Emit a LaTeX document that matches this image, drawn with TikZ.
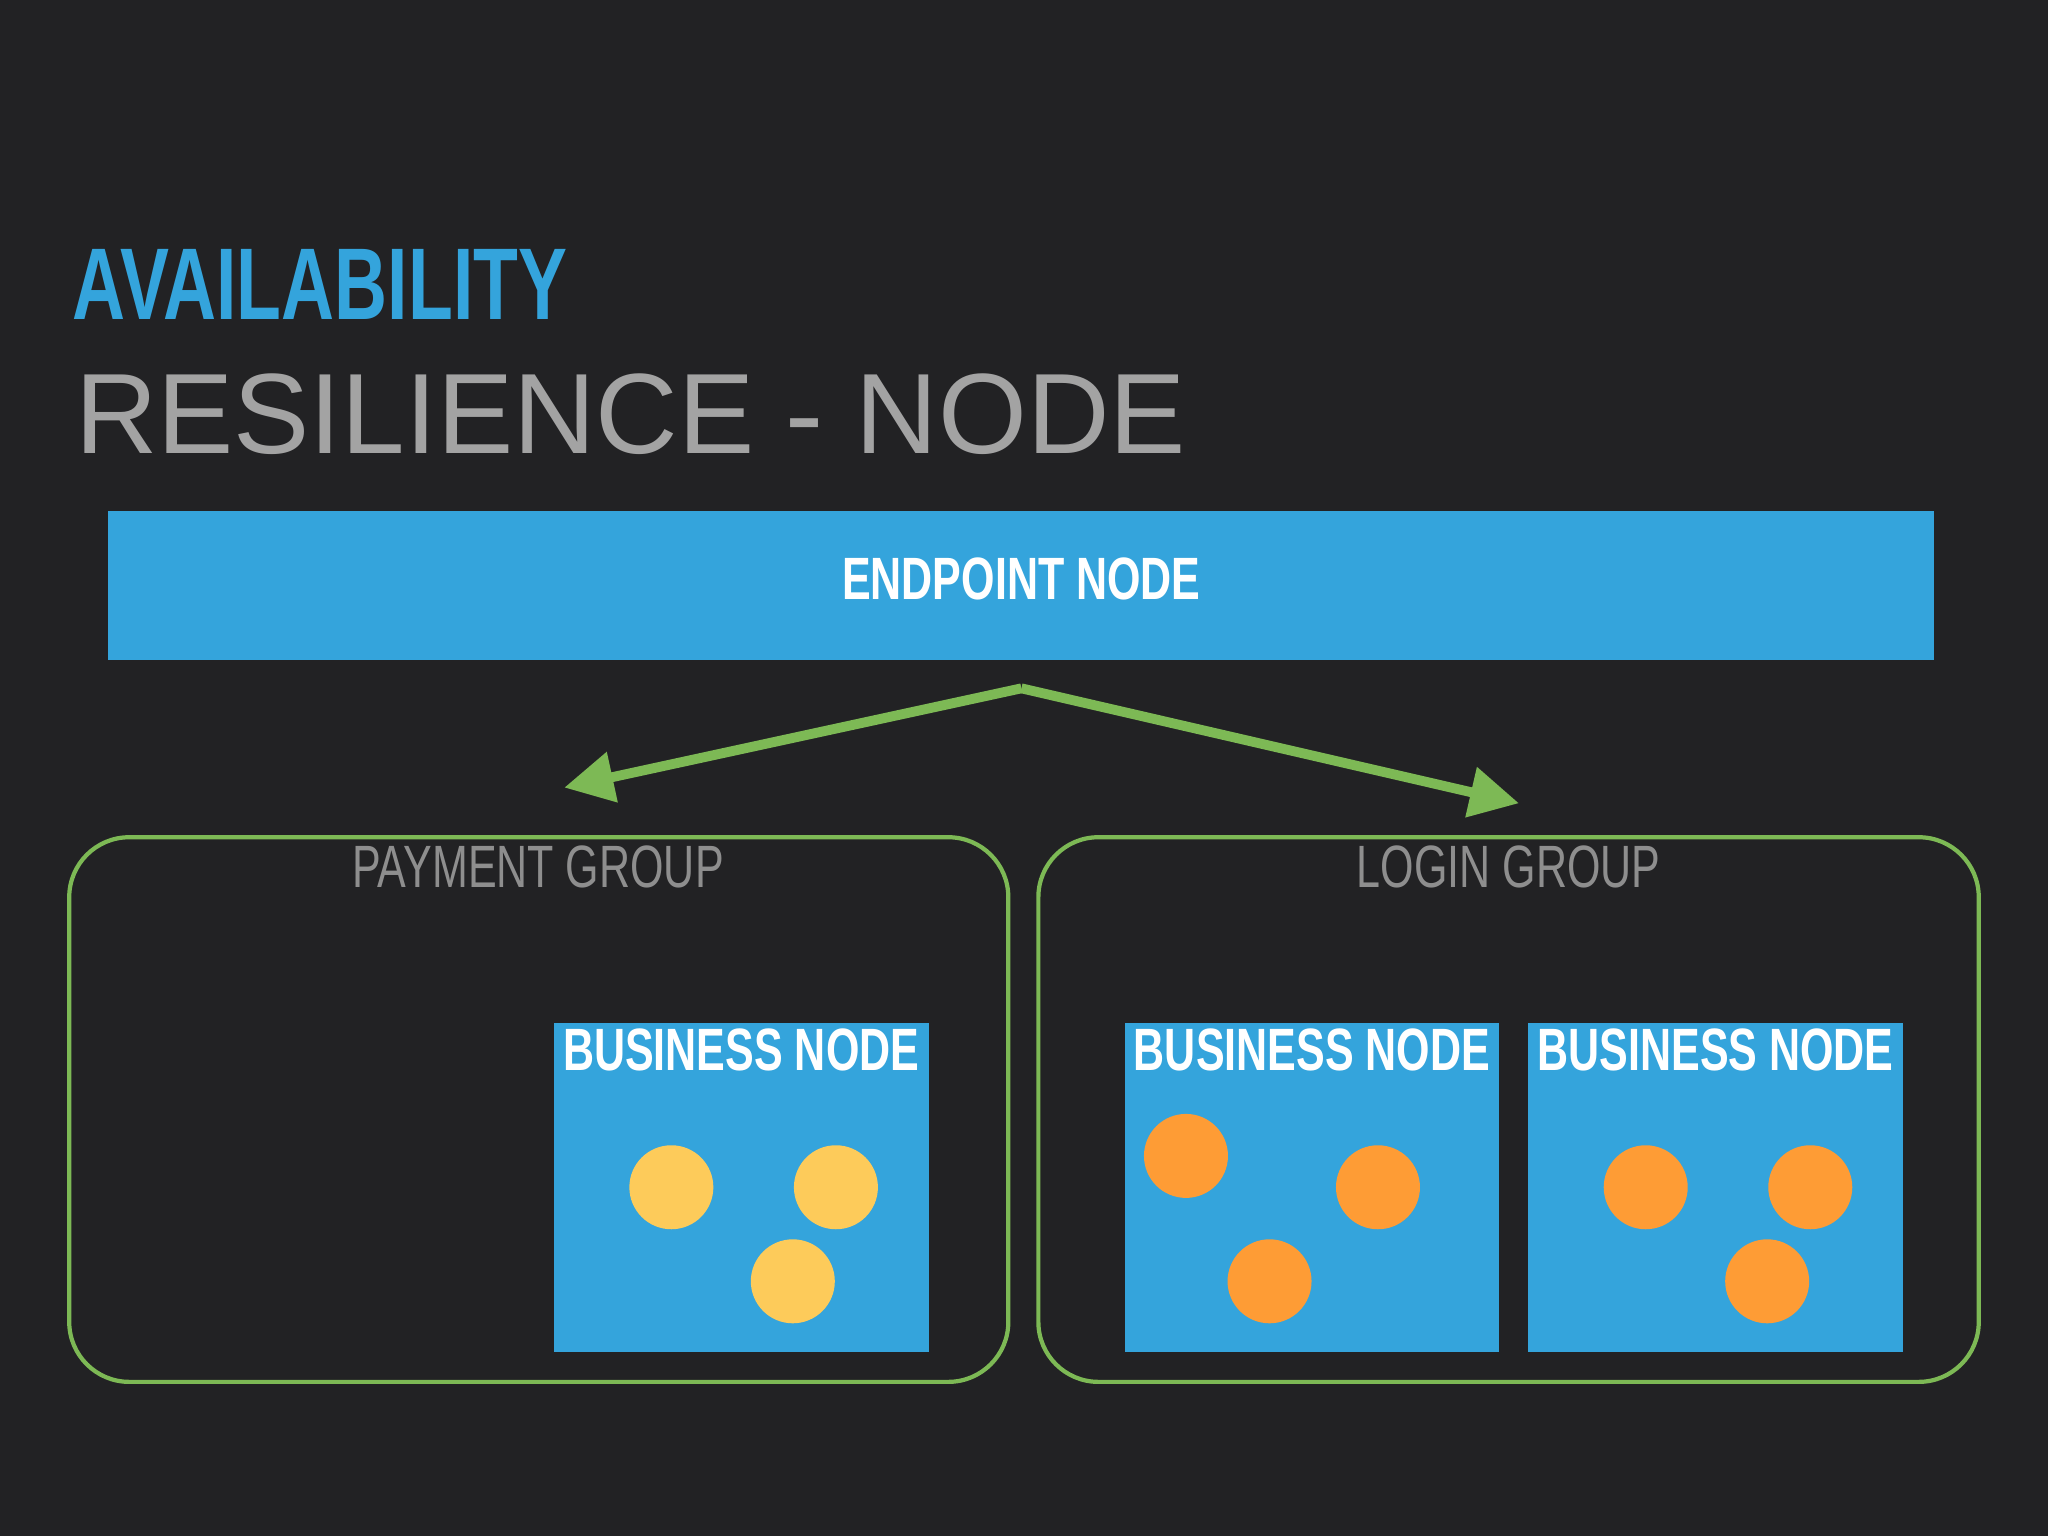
\documentclass[tikz,border=0pt]{standalone}
\usepackage{fontspec}
\setmainfont{Liberation Sans}
\newfontfamily\condfont[FakeStretch=0.72]{Liberation Sans Bold}
\newfontfamily\condlight[FakeStretch=0.72]{Liberation Sans}
\usetikzlibrary{arrows.meta}
\definecolor{bg}{HTML}{222224}
\definecolor{sky}{HTML}{34A4DC}
\definecolor{leaf}{HTML}{7DB955}
\definecolor{ash}{HTML}{A3A3A3}
\definecolor{dimgray}{HTML}{8E8E8E}
\definecolor{sun}{HTML}{FDCB5A}
\definecolor{tang}{HTML}{FE9C35}
\begin{document}
\begin{tikzpicture}[x=0.01306cm,y=-0.01306cm,
  box/.style={fill=sky,draw=none},
  group/.style={draw=leaf,line width=1.2pt,rounded corners=0.6cm},
  btitle/.style={text=white,font=\condfont\fontsize{17}{17}\selectfont},
  gtitle/.style={text=dimgray,font=\condlight\fontsize{17}{17}\selectfont},
  link/.style={draw=leaf,line width=2.8pt,-{Triangle[length=14pt,width=14pt]}},
  dot/.style={circle,minimum size=0.84cm,inner sep=0pt}]
\fill[bg] (0,0) rectangle (1568,1176);
\useasboundingbox (0,0) rectangle (1568,1176);
\node[anchor=base west,inner sep=0pt,text=sky,font=\condfont\fontsize{29}{29}\selectfont] (t1) at (55,245) {AVAILABILITY};
\node[anchor=base west,inner sep=0pt,text=ash,font=\fontsize{32.5}{33}\selectfont] (t2) at (57,347) {RESILIENCE - NODE};
\fill[box] (83,391) rectangle (1481,505);
\node[btitle] (ep) at (782,443) {ENDPOINT NODE};
\coordinate (src) at (782,527);
\coordinate (pl) at (432,603);
\coordinate (pr) at (1163,615);
\draw[link] (src) -- (pl);
\draw[link] (src) -- (pr);
\draw[group] (53,641) rectangle (772,1058);
\draw[group] (795,641) rectangle (1515,1058);
\node[gtitle] (pg) at (412,664) {PAYMENT GROUP};
\node[gtitle] (lg) at (1155,664) {LOGIN GROUP};
\fill[box] (424,783) rectangle (711,1035);
\fill[box] (861,783) rectangle (1148,1035);
\fill[box] (1170,783) rectangle (1457,1035);
\node[btitle] (b1) at (567.5,804) {BUSINESS NODE};
\node[btitle] (b2) at (1004.5,804) {BUSINESS NODE};
\node[btitle] (b3) at (1313.5,804) {BUSINESS NODE};
\node[dot,fill=sun] (y1) at (514,909) {};
\node[dot,fill=sun] (y2) at (640,909) {};
\node[dot,fill=sun] (y3) at (607,981) {};
\node[dot,fill=tang] (o1) at (908,885) {};
\node[dot,fill=tang] (o2) at (1055,909) {};
\node[dot,fill=tang] (o3) at (972,981) {};
\node[dot,fill=tang] (o4) at (1260,909) {};
\node[dot,fill=tang] (o5) at (1386,909) {};
\node[dot,fill=tang] (o6) at (1353,981) {};
\end{tikzpicture}
\end{document}
